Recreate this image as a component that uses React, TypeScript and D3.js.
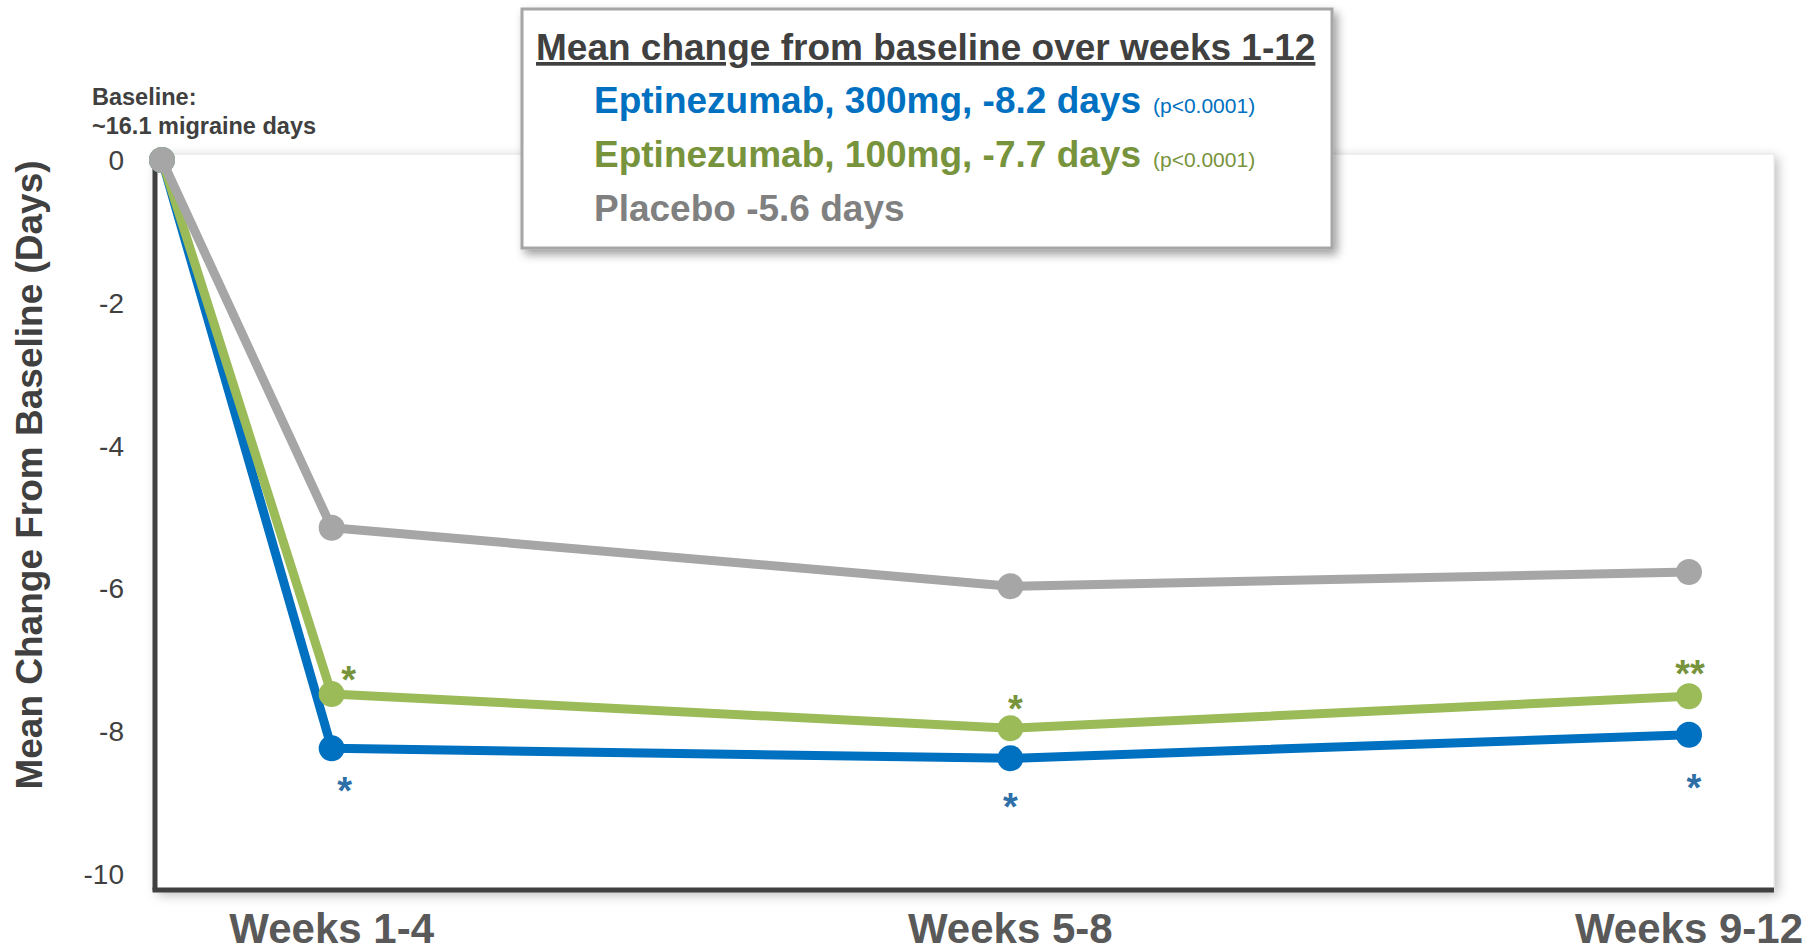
import React from "react";
import * as d3 from "d3";

const categories = ["Baseline", "Weeks 1-4", "Weeks 5-8", "Weeks 9-12"];
const weekPos = [0, 1, 5, 9];
const eptinezumab300 = [0, -8.24, -8.38, -8.05];
const eptinezumab100 = [0, -7.48, -7.96, -7.51];
const placebo = [0, -5.15, -5.97, -5.77];
const sig300 = ["", "*", "*", "*"];
const sig100 = ["", "*", "*", "**"];
const yTicks = [0, -2, -4, -6, -8, -10];
const legendTitle = "Mean change from baseline over weeks 1-12";
const legendLabels = ["Eptinezumab, 300mg, -8.2 days", "Eptinezumab, 100mg, -7.7 days", "Placebo -5.6 days"];
const legendPValues = ["(p<0.0001)", "(p<0.0001)", ""];
const baselineNote = ["Baseline:", "~16.1 migraine days"];
const yTitle = "Mean Change From Baseline (Days)";

const FONT = "'Liberation Sans', Arial, Helvetica, sans-serif";

export default function App() {
  const W = 1808, H = 952;
  const x = d3.scaleLinear().domain([0, 9]).range([162, 1689]);
  const y = d3.scaleLinear().domain([0, -10]).range([160, 874]);
  const plot = { left: 155, top: 154, right: 1774, bottom: 890 };

  const series = [
    { name: "300", values: eptinezumab300, color: "#0070C0", sig: sig300, sigColor: "#2E6FA8", above: false, legendColor: "#0070C0" },
    { name: "100", values: eptinezumab100, color: "#9BBB59", sig: sig100, sigColor: "#77933C", above: true, legendColor: "#77933C" },
    { name: "pbo", values: placebo, color: "#A6A6A6", sig: null, sigColor: "", above: false, legendColor: "#808080" },
  ];

  const line = d3.line<number>()
    .x((_, i) => x(weekPos[i]))
    .y((v) => y(v));

  // annotation offsets (px) relative to each point: [dx, dyCenter]
  const offAbove = [[0, 0], [17, -23], [5, -28], [1, -31]];
  const offBelow = [[0, 0], [13, 34], [0, 40], [5, 44]];
  const starFs = 38;

  return (
    <svg width={W} height={H} style={{ position: "absolute", left: 0, top: 0, display: "block", background: "#fff" }} fontFamily={FONT}>
      <defs>
        <filter id="plotShadow" x="-5%" y="-5%" width="110%" height="115%">
          <feDropShadow dx="3" dy="4" stdDeviation="6" floodColor="#000" floodOpacity="0.28" />
        </filter>
        <filter id="legShadow" x="-5%" y="-10%" width="112%" height="130%">
          <feDropShadow dx="4" dy="5" stdDeviation="5" floodColor="#000" floodOpacity="0.38" />
        </filter>
      </defs>

      {/* plot frame */}
      <rect x={plot.left} y={plot.top} width={plot.right - plot.left} height={plot.bottom - plot.top}
        fill="#fff" stroke="#e2e2e2" strokeWidth={1} filter="url(#plotShadow)" />
      <line x1={plot.left} y1={plot.top} x2={plot.left} y2={plot.bottom} stroke="#404040" strokeWidth={5} />
      <line x1={plot.left - 2.5} y1={plot.bottom} x2={plot.right} y2={plot.bottom} stroke="#404040" strokeWidth={5} />

      {/* y ticks */}
      {yTicks.map((t) => (
        <text key={t} x={124} y={y(t)} dy="0.36em" textAnchor="end" fontSize={28} fill="#404040">{t}</text>
      ))}

      {/* y title */}
      <text transform={`translate(42,475) rotate(-90)`} textAnchor="middle" fontSize={37} fontWeight="bold" fill="#404040">{yTitle}</text>

      {/* x labels */}
      {categories.slice(1).map((c, i) => (
        <text key={c} x={x(weekPos[i + 1])} y={943} textAnchor="middle" fontSize={42} fontWeight="bold" fill="#595959">{c}</text>
      ))}

      {/* baseline note */}
      <text x={92} y={105} fontSize={23.5} fontWeight="bold" fill="#404040">{baselineNote[0]}</text>
      <text x={92} y={134} fontSize={23.5} fontWeight="bold" fill="#404040">{baselineNote[1]}</text>

      {/* lines */}
      {series.map((s) => (
        <g key={s.name}>
          <path d={line(s.values) || ""} fill="none" stroke={s.color} strokeWidth={9} strokeLinejoin="round" />
          {s.values.map((v, i) => (
            <circle key={i} cx={x(weekPos[i])} cy={y(v)} r={13} fill={s.color} />
          ))}
        </g>
      ))}

      {/* significance */}
      {series.filter((s) => s.sig).map((s) =>
        s.sig!.map((lab, i) => {
          if (!lab) return null;
          const o = s.above ? offAbove[i] : offBelow[i];
          return (
            <text key={s.name + i} x={x(weekPos[i]) + o[0]} y={y(s.values[i]) + o[1] + 0.58 * starFs}
              textAnchor="middle" fontSize={starFs} fontWeight="bold" fill={s.sigColor}>{lab}</text>
          );
        })
      )}

      {/* legend */}
      <rect x={522} y={9} width={810} height={239} fill="#fff" stroke="#A6A6A6" strokeWidth={3} filter="url(#legShadow)" />
      <text x={536} y={60} fontSize={37} fontWeight="bold" fill="#404040" textDecoration="underline">{legendTitle}</text>
      {legendLabels.map((lab, i) => (
        <text key={lab} x={594} y={113 + i * 54} fontSize={37} fontWeight="bold" fill={series[i].legendColor}>
          {lab}
          {legendPValues[i] ? <tspan dx={12} fontSize={21} fontWeight="normal">{legendPValues[i]}</tspan> : null}
        </text>
      ))}
    </svg>
  );
}
